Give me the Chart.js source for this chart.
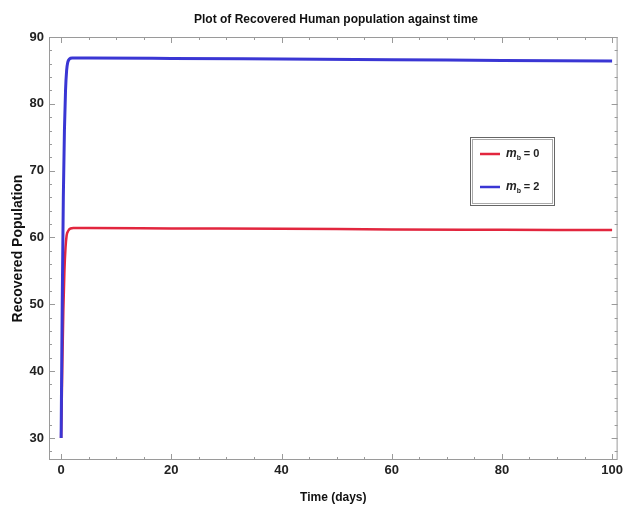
<!DOCTYPE html>
<html>
<head>
<meta charset="utf-8">
<script src="https://cdn.jsdelivr.net/npm/chart.js@4.4.1/dist/chart.umd.min.js"></script>
<style>
  html, body { margin: 0; padding: 0; background: #fff; }
  #wrap { width: 626px; height: 505px; position: relative; }
</style>
</head>
<body>
<div id="wrap"><canvas id="chart"></canvas></div>
<script>
// values
const timeM0 = [0, 0.2, 0.4, 0.6, 0.8, 1.0, 1.3, 1.7, 2.2, 5, 20, 40, 60, 80, 100];
const recM0  = [30, 40, 49, 55, 58.5, 60.3, 61.0, 61.35, 61.4, 61.4, 61.35, 61.3, 61.2, 61.15, 61.1];
const timeM2 = [0, 0.2, 0.4, 0.6, 0.8, 1.0, 1.2, 1.5, 2.0, 5, 20, 40, 60, 80, 100];
const recM2  = [30, 50, 66, 76, 82, 85, 86.2, 86.7, 86.85, 86.85, 86.8, 86.7, 86.6, 86.5, 86.4];
const xMajor = [0, 20, 40, 60, 80, 100];
const yMajor = [30, 40, 50, 60, 70, 80, 90];
const xMinorStep = 5;
const yMinorStep = 2;

const FONT = '"Liberation Sans", Arial, sans-serif';
const toPts = (xs, ys) => xs.map((x, i) => ({ x: x, y: ys[i] }));

// frame + inward ticks on all four sides, legend, title
const framePlugin = {
  id: 'frame',
  afterDatasetsDraw(chart) {
    const { ctx, chartArea: a, scales: { x, y } } = chart;
    ctx.save();
    ctx.strokeStyle = '#9a9a9a';
    ctx.lineWidth = 1;
    ctx.strokeRect(a.left + 0.5, a.top + 0.5, a.right - a.left - 1, a.bottom - a.top - 1);
    ctx.beginPath();
    for (let v = 0; v <= 100; v += xMinorStep) {
      const px = Math.round(x.getPixelForValue(v)) + 0.5;
      const len = xMajor.includes(v) ? 6 : 3;
      ctx.moveTo(px, a.bottom); ctx.lineTo(px, a.bottom - len);
      ctx.moveTo(px, a.top); ctx.lineTo(px, a.top + len);
    }
    for (let v = 28; v <= 90; v += yMinorStep) {
      const py = Math.round(y.getPixelForValue(v)) + 0.5;
      const len = yMajor.includes(v) ? 6 : 3;
      ctx.moveTo(a.left, py); ctx.lineTo(a.left + len, py);
      ctx.moveTo(a.right, py); ctx.lineTo(a.right - len, py);
    }
    ctx.stroke();

    // legend
    const lx = 470, ly = 137, lw = 84, lh = 68;
    ctx.strokeStyle = '#666';
    ctx.strokeRect(lx + 0.5, ly + 0.5, lw, lh);
    ctx.strokeStyle = '#aaa';
    ctx.strokeRect(lx + 2.5, ly + 2.5, lw - 4, lh - 4);
    chart.data.datasets.forEach((ds, i) => {
      const yy = ly + 17 + i * 33;
      ctx.strokeStyle = ds.borderColor;
      ctx.lineWidth = 2.5;
      ctx.beginPath();
      ctx.moveTo(lx + 10, yy); ctx.lineTo(lx + 30, yy);
      ctx.stroke();
      ctx.fillStyle = '#222';
      ctx.textBaseline = 'middle';
      ctx.textAlign = 'left';
      ctx.font = 'italic bold 12px ' + FONT;
      ctx.fillText('m', lx + 36, yy);
      const mw = ctx.measureText('m').width;
      ctx.font = 'bold 7px ' + FONT;
      ctx.fillText('b', lx + 36 + mw, yy + 4);
      ctx.font = 'bold 11px ' + FONT;
      ctx.fillText('= ' + ds.label, lx + 36 + mw + 7, yy);
    });

    // title
    ctx.fillStyle = '#111';
    ctx.font = 'bold 12px ' + FONT;
    ctx.textAlign = 'center';
    ctx.textBaseline = 'middle';
    ctx.fillText('Plot of Recovered Human population against time', 336, 20);
    ctx.restore();
  }
};

new Chart(document.getElementById('chart'), {
  type: 'line',
  data: {
    datasets: [
      { label: '0', data: toPts(timeM0, recM0), borderColor: '#e2263e', borderWidth: 2.5, pointRadius: 0, cubicInterpolationMode: 'monotone', order: 2 },
      { label: '2', data: toPts(timeM2, recM2), borderColor: '#3a36d4', borderWidth: 3, pointRadius: 0, cubicInterpolationMode: 'monotone', order: 1 }
    ]
  },
  options: {
    responsive: true,
    maintainAspectRatio: false,
    animation: false,
    layout: { padding: { top: 37, right: 5, left: 0, bottom: 0 } },
    plugins: { legend: { display: false }, tooltip: { enabled: false } },
    scales: {
      x: {
        type: 'linear',
        min: -2.2, max: 101,
        afterBuildTicks: s => { s.ticks = xMajor.map(v => ({ value: v })); },
        afterFit: s => { s.height = 45; },
        grid: { display: false, drawTicks: false },
        border: { display: false },
        ticks: { color: '#222', font: { family: FONT, size: 13, weight: 'bold' }, padding: 3, maxRotation: 0 },
        title: { display: true, text: 'Time (days)', color: '#111', font: { family: FONT, size: 12, weight: 'bold' }, padding: { top: 3, bottom: 0 } }
      },
      y: {
        min: 26.7, max: 90,
        afterBuildTicks: s => { s.ticks = yMajor.map(v => ({ value: v })); },
        afterFit: s => { s.width = 49; },
        grid: { display: false, drawTicks: false },
        border: { display: false },
        ticks: { color: '#222', font: { family: FONT, size: 13, weight: 'bold' }, padding: 5 },
        title: { display: true, text: 'Recovered Population', color: '#111', font: { family: FONT, size: 14, weight: 'bold' }, padding: { top: 10, bottom: 6 } }
      }
    }
  },
  plugins: [framePlugin]
});
</script>
</body>
</html>
